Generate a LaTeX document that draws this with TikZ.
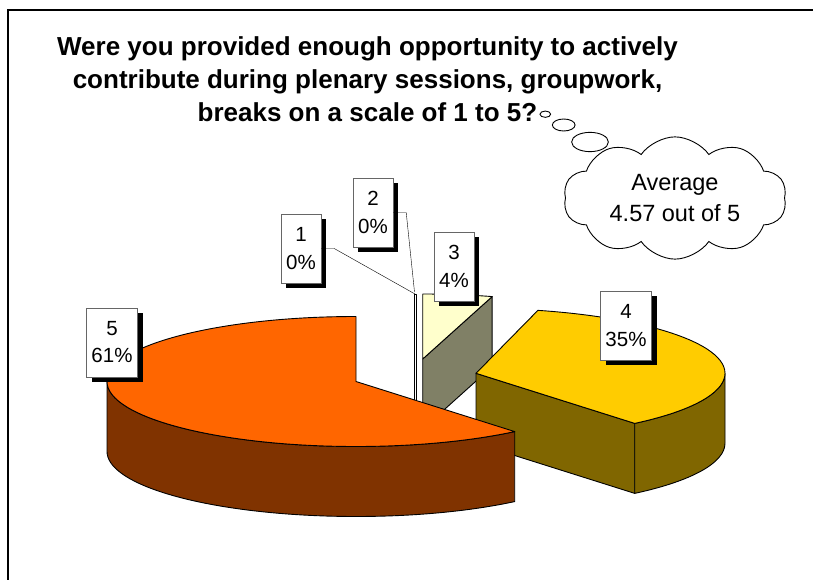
\documentclass[tikz,border=0pt]{standalone}
\usepackage{fontspec}
\setmainfont{Liberation Sans}
\usetikzlibrary{positioning,shapes.geometric,shapes.symbols,shadows}

\definecolor{orangetop}{HTML}{FF6600}
\definecolor{orangeside}{HTML}{803300}
\definecolor{goldtop}{HTML}{FFCC00}
\definecolor{goldside}{HTML}{806600}
\definecolor{paletop}{HTML}{FFFFCC}
\definecolor{paleside}{HTML}{808066}

\tikzset{
  lbl/.style={draw=black!60, fill=white, inner sep=0pt, minimum height=69pt,
    align=center, font=\fontsize{20.5}{27.3}\selectfont,
    general shadow={fill=black, shadow xshift=5pt, shadow yshift=-5pt}},
  bubble/.style={draw, ellipse, fill=white, inner sep=0pt, line width=0.9pt},
  face/.style={draw=black, line width=0.9pt, line join=round},
}

\begin{document}
\begin{tikzpicture}[x=1pt, y=1pt]
\useasboundingbox (0,0) rectangle (813,-580);
\draw[line width=1.5pt] (8,-580) -- (8,-10) -- (813,-10);

\node[anchor=north, inner sep=0pt, align=center,
  font=\fontsize{26}{33.3}\selectfont\bfseries] (title) at (367.5,-36)
  {Were you provided enough opportunity to actively\\contribute during plenary sessions, groupwork,\\breaks on a scale of 1 to 5?};

% thought bubble
\node[bubble, minimum width=10.7pt, minimum height=6.3pt] (bub1) at (545.3,-114.2) {};
\node[bubble, minimum width=22.7pt, minimum height=12pt] (bub2) at (563.7,-125) {};
\node[bubble, minimum width=36.7pt, minimum height=19.3pt] (bub3) at (590,-142) {};
\node[draw, cloud, cloud puffs=10, cloud puff arc=110, aspect=1.9, line width=0.9pt,
  minimum width=223pt, minimum height=118pt, inner sep=0pt, align=center,
  font=\fontsize{23.5}{30.7}\selectfont] (avg) at (675,-198) {Average\\4.57 out of 5};

% slices 1 and 2
\filldraw[face, fill=white] (414,-294) rectangle (416.5,-429);

% slice 3
\coordinate (c3) at (422.7,-359);
\filldraw[face, fill=paleside] (c3) -- ++(73.8:249 and 65) -- ++(0,-70) -- ++(253.8:249 and 65) -- cycle;
\filldraw[face, fill=paletop] (c3) -- ++(73.8:249 and 65)
  arc[start angle=73.8, end angle=90, x radius=249, y radius=65] -- cycle;

% slice 4
\coordinate (c4) at (476,-373.3);
\filldraw[face, fill=goldside] (c4) -- ++(-50.4:249 and 65) -- ++(0,-70) -- ++(129.6:249 and 65) -- cycle;
\filldraw[face, fill=goldside] (c4) ++(-50.4:249 and 65)
  arc[start angle=-50.4, end angle=0, x radius=249, y radius=65] -- ++(0,-70)
  arc[start angle=0, end angle=-50.4, x radius=249, y radius=65] -- cycle;
\filldraw[face, fill=goldtop] (c4) -- ++(-50.4:249 and 65)
  arc[start angle=-50.4, end angle=75.6, x radius=249, y radius=65] -- cycle;

% slice 5
\coordinate (c5) at (356,-381.5);
\filldraw[face, fill=orangeside] (c5) ++(-249,0)
  arc[start angle=180, end angle=309.6, x radius=249, y radius=65] -- ++(0,-70)
  arc[start angle=309.6, end angle=180, x radius=249, y radius=65] -- cycle;
\filldraw[face, fill=orangetop] (c5) -- ++(0,65)
  arc[start angle=90, end angle=309.6, x radius=249, y radius=65] -- cycle;

% labels
\coordinate (tip1) at (415,-294);
\coordinate (tip2) at (414.5,-292);
\node[lbl, minimum width=40pt] (lab1) at (301,-248.5) {1\\0\%};
\node[lbl, minimum width=40pt] (lab2) at (373,-212.5) {2\\0\%};
\node[lbl, minimum width=40pt] (lab3) at (454,-266.5) {3\\4\%};
\node[lbl, minimum width=51pt] (lab4) at (626,-325.5) {4\\35\%};
\node[lbl, minimum width=51pt] (lab5) at (112,-342.3) {5\\61\%};

\draw[thin] (lab1.east) -- ++(13,0) -- (tip1);
\draw[thin] (lab2.east) -- ++(13,0) -- (tip2);

\end{tikzpicture}
\end{document}
